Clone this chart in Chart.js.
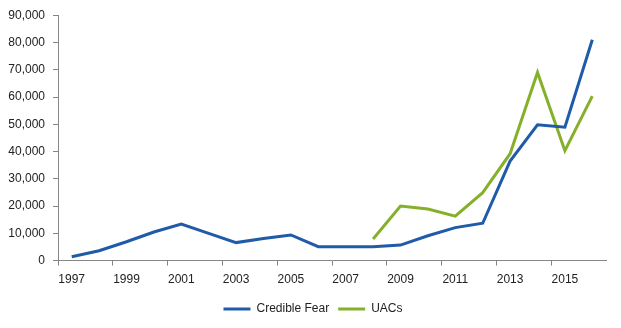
<!DOCTYPE html>
<html>
<head>
<meta charset="utf-8">
<script src="https://cdn.jsdelivr.net/npm/chart.js@4"></script>
<style>
  html, body { margin: 0; padding: 0; background: #fff; }
  #wrap { width: 621px; height: 328px; }
</style>
</head>
<body>
<div id="wrap"><canvas id="chart"></canvas></div>
<script>
// Chart data
const years = ['1997', '1998', '1999', '2000', '2001', '2002', '2003', '2004', '2005', '2006',
               '2007', '2008', '2009', '2010', '2011', '2012', '2013', '2014', '2015', '2016'];
const credibleFear = [1400, 3600, 6900, 10500, 13400, 10000, 6600, 8100, 9400, 5100,
                      5100, 5100, 5700, 9100, 12100, 13700, 36500, 49800, 48900, 81000];
const uacs = [null, null, null, null, null, null, null, null, null, null,
              null, 7900, 20000, 18900, 16300, 24900, 39200, 69000, 40300, 60300];
const yTicks = [0, 10000, 20000, 30000, 40000, 50000, 60000, 70000, 80000, 90000];

const FONT = { family: "'Liberation Sans', Arial, sans-serif", size: 12 };
const AXIS_GREY = '#868686';

// nudge the centred legend a little to the right, like the original
const legendShift = {
    id: 'legendShift',
    afterLayout(chart) {
        if (chart.legend) chart.legend.left += 20;
    }
};

const ctx = document.getElementById('chart');

new Chart(ctx, {
    type: 'line',
    data: {
        labels: years,
        datasets: [
            {
                label: 'Credible Fear',
                data: credibleFear,
                borderColor: '#1f5ba8',
                backgroundColor: '#1f5ba8',
                borderWidth: 3,
                pointRadius: 0,
                tension: 0
            },
            {
                label: 'UACs',
                data: uacs,
                borderColor: '#86b02c',
                backgroundColor: '#86b02c',
                borderWidth: 3,
                pointRadius: 0,
                tension: 0
            }
        ]
    },
    plugins: [legendShift],
    options: {
        responsive: true,
        maintainAspectRatio: false,
        animation: false,
        layout: { padding: { left: 0, right: 15, top: 13, bottom: 3 } },
        plugins: {
            tooltip: { enabled: false },
            legend: {
                position: 'bottom',
                labels: {
                    color: '#222',
                    font: FONT,
                    usePointStyle: true,
                    pointStyle: 'line',
                    pointStyleWidth: 27,
                    padding: 9,
                    boxHeight: 3
                }
            }
        },
        scales: {
            x: {
                offset: true,
                border: { display: true, color: AXIS_GREY, width: 1 },
                grid: {
                    offset: true,
                    drawOnChartArea: false,
                    drawTicks: true,
                    tickLength: 5,
                    color: (c) => (c.index % 2 === 0 ? AXIS_GREY : 'rgba(0,0,0,0)')
                },
                ticks: {
                    autoSkip: false,
                    maxRotation: 0,
                    color: '#222',
                    font: FONT,
                    padding: 7,
                    callback: function (val, idx) {
                        return idx % 2 === 0 ? this.getLabelForValue(val) : '';
                    }
                }
            },
            y: {
                min: 0,
                max: 90000,
                afterFit: (scale) => { scale.width = 58; },
                afterBuildTicks: (scale) => { scale.ticks = yTicks.map(v => ({ value: v })); },
                border: { display: true, color: AXIS_GREY, width: 1 },
                grid: {
                    drawOnChartArea: false,
                    drawTicks: true,
                    tickLength: 5,
                    color: AXIS_GREY
                },
                ticks: {
                    color: '#222',
                    font: FONT,
                    padding: 8,
                    callback: (v) => v.toLocaleString('en-US')
                }
            }
        }
    }
});
</script>
</body>
</html>
